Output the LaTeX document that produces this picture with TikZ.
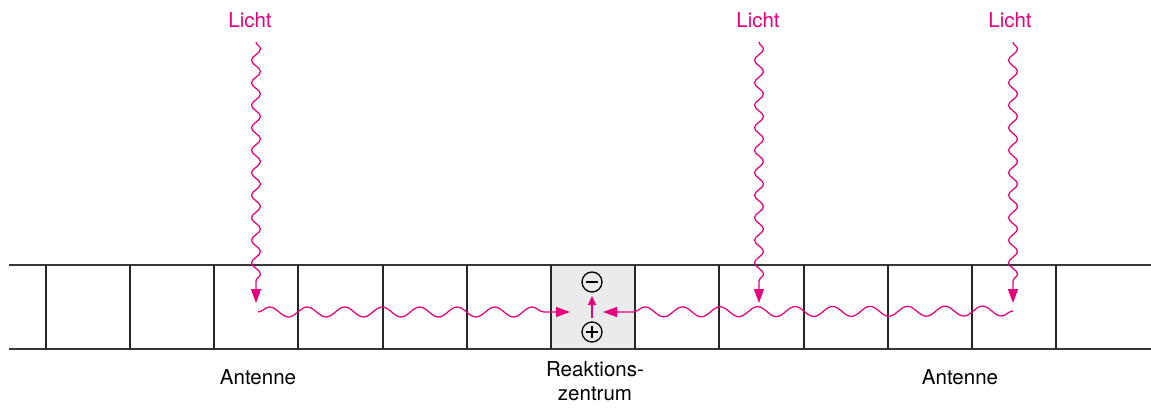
\documentclass[tikz,border=0pt]{standalone}
\usepackage{fontspec}
\setmainfont{TeX Gyre Heros}
\usetikzlibrary{decorations.pathmorphing,arrows.meta}
\definecolor{mag}{RGB}{230,0,126}
\definecolor{boxgray}{RGB}{235,235,235}
\definecolor{linegray}{RGB}{55,55,55}
\begin{document}
\begin{tikzpicture}[x=1pt,y=-1pt,
  font=\fontsize{20.5}{24}\selectfont,
  label/.style={inner sep=0pt},
  maglabel/.style={label,text=mag},
  vwave/.style={draw=mag,line width=1.25pt,decorate,decoration={snake,segment length=22.5pt,amplitude=4.5pt}},
  hwave/.style={draw=mag,line width=1.25pt,decorate,decoration={snake,segment length=37.5pt,amplitude=5pt}},
  tip/.style={draw=mag,line width=1.25pt,-{Triangle[length=14pt,width=10pt]}},
  smalltip/.style={draw=mag,line width=1.3pt,-{Triangle[length=9pt,width=8pt]}},
  rail/.style={draw=linegray,line width=2pt},
  wall/.style={draw=black!85,line width=2pt},
  charge/.style={circle,draw=black,line width=1.3pt,minimum size=20pt,inner sep=0pt}]
\useasboundingbox (0,0) rectangle (1151,409);
% reaction centre box
\fill[boxgray] (551,265) rectangle (635,349);
% rails
\draw[rail] (9,265) -- (1151,265);
\draw[rail] (9,349) -- (1151,349);
\foreach \x in {46,130,214,298,383,467,551,635,719,804,888,972,1056} {
  \draw[wall] (\x,265) -- (\x,349);
}
% labels
\node[maglabel] (licht1) at (250,20) {Licht};
\node[maglabel] (licht2) at (758,20) {Licht};
\node[maglabel] (licht3) at (1010,20) {Licht};
\node[label] (ant1) at (258,377) {Antenne};
\node[label] (ant2) at (960,377) {Antenne};
\node[label,align=center] (rz) at (595,381) {Reaktions-\\zentrum};
% charges
\node[charge] (minus) at (592,282) {};
\node[charge] (plus) at (592,332) {};
\draw[line width=1.5pt] ([xshift=-6pt]minus.center) -- ([xshift=6pt]minus.center);
\draw[line width=1.5pt] ([xshift=-6pt]plus.center) -- ([xshift=6pt]plus.center);
\draw[line width=1.5pt] ([yshift=-6pt]plus.center) -- ([yshift=6pt]plus.center);
% coordinates
\coordinate (v1s) at (256,42);  \coordinate (v1b) at (256,289); \coordinate (v1t) at (256,303);
\coordinate (v2s) at (759,42);  \coordinate (v2b) at (759,289); \coordinate (v2t) at (759,303);
\coordinate (v3s) at (1013,42); \coordinate (v3b) at (1013,289); \coordinate (v3t) at (1013,303);
\coordinate (h1s) at (258,312); \coordinate (h1b) at (556,312); \coordinate (h1t) at (570,312);
\coordinate (h2s) at (1013,311); \coordinate (h2b) at (617,312); \coordinate (h2t) at (603,312);
\coordinate (cs) at (592,318); \coordinate (ct) at (592,296);
% vertical light waves
\draw[vwave] (v1s) -- (v1b); \draw[tip] (v1b) -- (v1t);
\draw[vwave] (v2s) -- (v2b); \draw[tip] (v2b) -- (v2t);
\draw[vwave] (v3s) -- (v3b); \draw[tip] (v3b) -- (v3t);
% horizontal energy transfer
\draw[hwave] (h1s) -- (h1b); \draw[tip] (h1b) -- (h1t);
\draw[hwave] (h2s) -- (h2b); \draw[tip] (h2b) -- (h2t);
% charge separation
\draw[smalltip] (cs) -- (ct);
\end{tikzpicture}
\end{document}
